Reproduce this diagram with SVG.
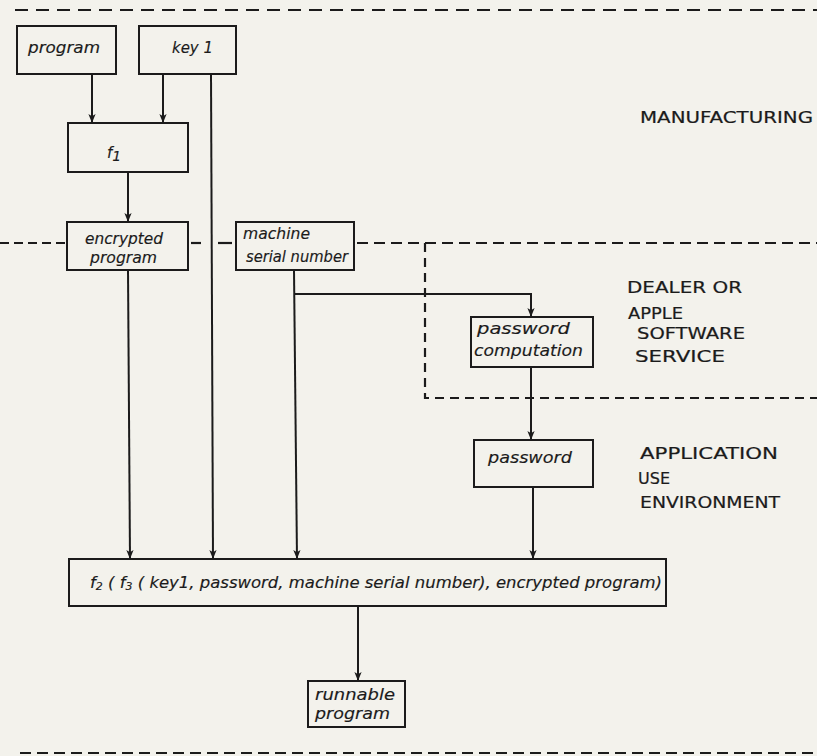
<svg xmlns="http://www.w3.org/2000/svg" width="817" height="756" viewBox="0 0 817 756">
  <style>
    .box { fill: none; stroke: #1b1b1b; stroke-width: 2; }
    .conn path { fill: none; stroke: #1b1b1b; stroke-width: 2; }
    .dash { fill: none; stroke: #1b1b1b; stroke-width: 2.2; }
    .hw { font-family: "DejaVu Sans", "Liberation Sans", sans-serif; font-style: italic; font-size: 15px; fill: #1b1b1b; stroke: #1b1b1b; stroke-width: 0.15; }
    .cap { font-family: "DejaVu Sans", "Liberation Sans", sans-serif; font-size: 15.5px; fill: #1b1b1b; stroke: #1b1b1b; stroke-width: 0.2; }
  </style>
  <defs>
    <marker id="arr" viewBox="0 0 10 8" refX="10" refY="4" markerWidth="9" markerHeight="8" markerUnits="userSpaceOnUse" orient="auto">
      <path d="M0,0 L10,4 L0,8 L2.5,4 z" fill="#1b1b1b"/>
    </marker>
  </defs>
  <rect x="0" y="0" width="817" height="756" fill="#f3f2ec"/>

  <g id="boundaries">
    <path class="dash" d="M15,10 H817" stroke-dasharray="13 8"/>
    <path class="dash" d="M0,243 H66" stroke-dasharray="9 5"/>
    <path class="dash" d="M191,243 H201"/>
    <path class="dash" d="M218,243 H232"/>
    <path class="dash" d="M357,243 H817" stroke-dasharray="11 6"/>
    <path class="dash" d="M425,243 V398 H817" stroke-dasharray="9 6"/>
    <path class="dash" d="M20,753 H817" stroke-dasharray="11 6"/>
  </g>

  <g id="connectors" class="conn">
    <path d="M92,74 V123" marker-end="url(#arr)"/>
    <path d="M163,74 V123" marker-end="url(#arr)"/>
    <path d="M211,74 L213,559" marker-end="url(#arr)"/>
    <path d="M128,172 V222" marker-end="url(#arr)"/>
    <path d="M128,270 L130,559" marker-end="url(#arr)"/>
    <path d="M294,270 L297,559" marker-end="url(#arr)"/>
    <path d="M294,294 H531 V317" marker-end="url(#arr)"/>
    <path d="M531,367 V440" marker-end="url(#arr)"/>
    <path d="M533,487 V559" marker-end="url(#arr)"/>
    <path d="M358,606 V681" marker-end="url(#arr)"/>
  </g>

  <g id="program">
    <rect class="box" x="17" y="26" width="99" height="48"/>
    <text class="hw" x="28" y="53" textLength="72" lengthAdjust="spacingAndGlyphs">program</text>
  </g>
  <g id="key1">
    <rect class="box" x="139" y="26" width="97" height="48"/>
    <text class="hw" x="172" y="53" font-size="16" textLength="41" lengthAdjust="spacingAndGlyphs">key 1</text>
  </g>
  <g id="f1">
    <rect class="box" x="68" y="123" width="120" height="49"/>
    <text class="hw" x="107" y="158" font-size="23">f<tspan font-size="14" dy="3">1</tspan></text>
  </g>
  <g id="encrypted-program">
    <rect class="box" x="67" y="222" width="121" height="48"/>
    <text class="hw" x="85" y="244" textLength="78" lengthAdjust="spacingAndGlyphs">encrypted</text>
    <text class="hw" x="90" y="263" textLength="67" lengthAdjust="spacingAndGlyphs">program</text>
  </g>
  <g id="machine-serial-number">
    <rect class="box" x="236" y="222" width="118" height="48"/>
    <text class="hw" x="243" y="239" textLength="67" lengthAdjust="spacingAndGlyphs">machine</text>
    <text class="hw" x="246" y="262" textLength="102" lengthAdjust="spacingAndGlyphs">serial number</text>
  </g>
  <g id="password-computation">
    <rect class="box" x="471" y="317" width="122" height="50"/>
    <text class="hw" x="477" y="334" textLength="93" lengthAdjust="spacingAndGlyphs">password</text>
    <text class="hw" x="474" y="356" textLength="109" lengthAdjust="spacingAndGlyphs">computation</text>
  </g>
  <g id="password">
    <rect class="box" x="474" y="440" width="119" height="47"/>
    <text class="hw" x="488" y="463" textLength="84" lengthAdjust="spacingAndGlyphs">password</text>
  </g>
  <g id="f2">
    <rect class="box" x="69" y="559" width="597" height="47"/>
    <text class="hw" x="90" y="588" textLength="572" lengthAdjust="spacingAndGlyphs">f<tspan font-size="10" dy="2">2</tspan><tspan dy="-2"> ( f</tspan><tspan font-size="10" dy="2">3</tspan><tspan dy="-2"> ( key1, password, machine serial number), encrypted program)</tspan></text>
  </g>
  <g id="runnable-program">
    <rect class="box" x="308" y="681" width="97" height="46"/>
    <text class="hw" x="315" y="700" textLength="80" lengthAdjust="spacingAndGlyphs">runnable</text>
    <text class="hw" x="315" y="719" textLength="75" lengthAdjust="spacingAndGlyphs">program</text>
  </g>

  <g id="labels">
    <text class="cap" x="640" y="123" textLength="173" lengthAdjust="spacingAndGlyphs">MANUFACTURING</text>
    <text class="cap" x="627" y="293" textLength="115" lengthAdjust="spacingAndGlyphs">DEALER OR</text>
    <text class="cap" x="628" y="319" textLength="55" lengthAdjust="spacingAndGlyphs">APPLE</text>
    <text class="cap" x="637" y="339" textLength="108" lengthAdjust="spacingAndGlyphs">SOFTWARE</text>
    <text class="cap" x="635" y="362" textLength="90" lengthAdjust="spacingAndGlyphs">SERVICE</text>
    <text class="cap" x="640" y="459" textLength="138" lengthAdjust="spacingAndGlyphs">APPLICATION</text>
    <text class="cap" x="638" y="484" textLength="32" lengthAdjust="spacingAndGlyphs">USE</text>
    <text class="cap" x="640" y="508" textLength="140" lengthAdjust="spacingAndGlyphs">ENVIRONMENT</text>
  </g>
</svg>
